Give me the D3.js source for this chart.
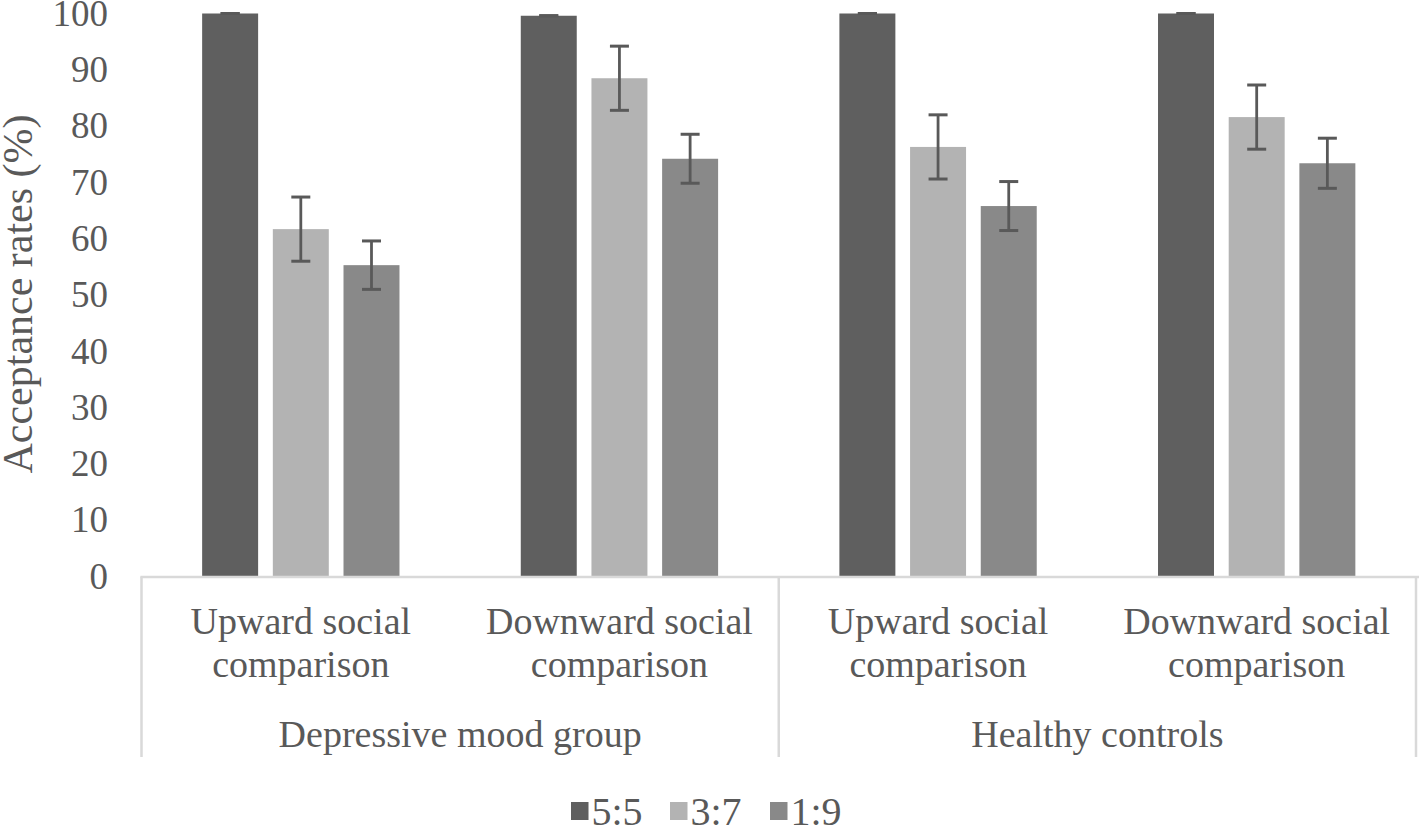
<!DOCTYPE html>
<html><head><meta charset="utf-8"><script src="https://cdn.jsdelivr.net/npm/d3@7"></script></head>
<body style="margin:0">
<svg id="chart" width="1419" height="825" style="font-family: Tinos, 'Times New Roman', 'Liberation Serif', serif"></svg>
<script>
// ---- data ----
const groups = ["Depressive mood group", "Healthy controls"];
const conditionLine1 = ["Upward social", "Downward social", "Upward social", "Downward social"];
const conditionLine2 = ["comparison", "comparison", "comparison", "comparison"];
const conditionGroup = [0, 0, 1, 1];
const series = ["5:5", "3:7", "1:9"];
const seriesColors = ["#5f5f5f", "#b3b3b3", "#898989"];
const values55 = [100, 99.6, 100, 100];
const values37 = [61.7, 88.5, 76.3, 81.6];
const values19 = [55.3, 74.2, 65.8, 73.4];
const err55 = [0, 0, 0, 0];
const err37 = [5.7, 5.7, 5.7, 5.7];
const err19 = [4.3, 4.35, 4.35, 4.45];
const yTicks = [0, 10, 20, 30, 40, 50, 60, 70, 80, 90, 100];

const seriesValues = [values55, values37, values19];
const seriesErr = [err55, err37, err19];

// ---- layout ----
const TXT = "#595959";
const svg = d3.select("#chart");
const left = 141.5, right = 1416, y0px = 576.5, y100px = 13.5;
const nCond = conditionLine1.length;

const x0 = d3.scaleBand().domain(d3.range(nCond)).range([left, right]).padding(0);
const x1 = d3.scaleBand().domain(d3.range(series.length)).range([0, x0.bandwidth()])
  .paddingInner(0.208).paddingOuter(0.858);
const y = d3.scaleLinear().domain([0, 100]).range([y0px, y100px]);

function styleText(sel, size) {
  return sel.style("font-family", "Tinos, 'Times New Roman', 'Liberation Serif', serif")
    .style("font-size", size + "px").style("fill", TXT);
}

// y tick labels
const gy = svg.append("g");
styleText(gy.selectAll("text").data(yTicks).join("text")
  .attr("x", 108).attr("y", d => y(d)).attr("dy", "0.33em")
  .attr("text-anchor", "end"), 37).text(d => d3.format("d")(d));

// y title
styleText(svg.append("text")
  .attr("transform", `translate(32,${(115 + 473) / 2}) rotate(-90)`)
  .attr("text-anchor", "middle"), 42)
  .text("Acceptance rates (%)");

// bars
const data = [];
d3.range(nCond).forEach(i => {
  series.forEach((s, j) => {
    data.push({ c: i, s: j, v: seriesValues[j][i], e: seriesErr[j][i] });
  });
});

svg.append("g").selectAll("rect").data(data).join("rect")
  .attr("x", d => x0(d.c) + x1(d.s))
  .attr("y", d => y(d.v))
  .attr("width", x1.bandwidth())
  .attr("height", d => y(0) - y(d.v))
  .attr("fill", d => seriesColors[d.s]);

// axis lines
const axisColor = "#d9d9d9";
svg.append("line")
  .attr("x1", left - 1).attr("x2", 1419)
  .attr("y1", y(0) + 0.5).attr("y2", y(0) + 0.5)
  .attr("stroke", axisColor).attr("stroke-width", 2.5);
const dividers = [left, x0(2), right];
svg.append("g").selectAll("line").data(dividers).join("line")
  .attr("x1", d => d).attr("x2", d => d)
  .attr("y1", y(0)).attr("y2", 757)
  .attr("stroke", axisColor).attr("stroke-width", 2.5);

// error bars
const errColor = "#595959";
const capW = 19;
const eg = svg.append("g").selectAll("g").data(data).join("g");
eg.append("line")
  .attr("x1", d => x0(d.c) + x1(d.s) + x1.bandwidth() / 2)
  .attr("x2", d => x0(d.c) + x1(d.s) + x1.bandwidth() / 2)
  .attr("y1", d => y(d.v + d.e)).attr("y2", d => y(d.v - d.e))
  .attr("stroke", errColor).attr("stroke-width", 2.8);
[1, -1].forEach(sign => {
  eg.append("line")
    .attr("x1", d => x0(d.c) + x1(d.s) + x1.bandwidth() / 2 - capW / 2)
    .attr("x2", d => x0(d.c) + x1(d.s) + x1.bandwidth() / 2 + capW / 2)
    .attr("y1", d => y(d.v + sign * d.e)).attr("y2", d => y(d.v + sign * d.e))
    .attr("stroke", errColor).attr("stroke-width", 3);
});

// category labels
const cx = i => x0(i) + x0.bandwidth() / 2;
styleText(svg.append("g").selectAll("text").data(conditionLine1).join("text")
  .attr("text-anchor", "middle").attr("x", (d, i) => cx(i)).attr("y", 634), 38).text(d => d);
styleText(svg.append("g").selectAll("text").data(conditionLine2).join("text")
  .attr("text-anchor", "middle").attr("x", (d, i) => cx(i)).attr("y", 677), 38).text(d => d);

// group labels
styleText(svg.append("g").selectAll("text").data(groups).join("text")
  .attr("text-anchor", "middle"), 38)
  .attr("x", (d, gi) => {
    const idx = conditionGroup.map((g, i) => g === gi ? i : -1).filter(i => i >= 0);
    return (x0(idx[0]) + x0(idx[idx.length - 1]) + x0.bandwidth()) / 2;
  })
  .attr("y", 747)
  .text(d => d);

// legend
const legendX = [571, 670, 770];
const lg = svg.append("g").selectAll("g").data(series).join("g")
  .attr("transform", (d, i) => `translate(${legendX[i]},0)`);
lg.append("rect").attr("x", 0).attr("y", 802).attr("width", 17.5).attr("height", 18)
  .attr("fill", (d, i) => seriesColors[i]);
styleText(lg.append("text").attr("x", 20.5).attr("y", 825), 40).text(d => d);
</script>
</body>
</html>
